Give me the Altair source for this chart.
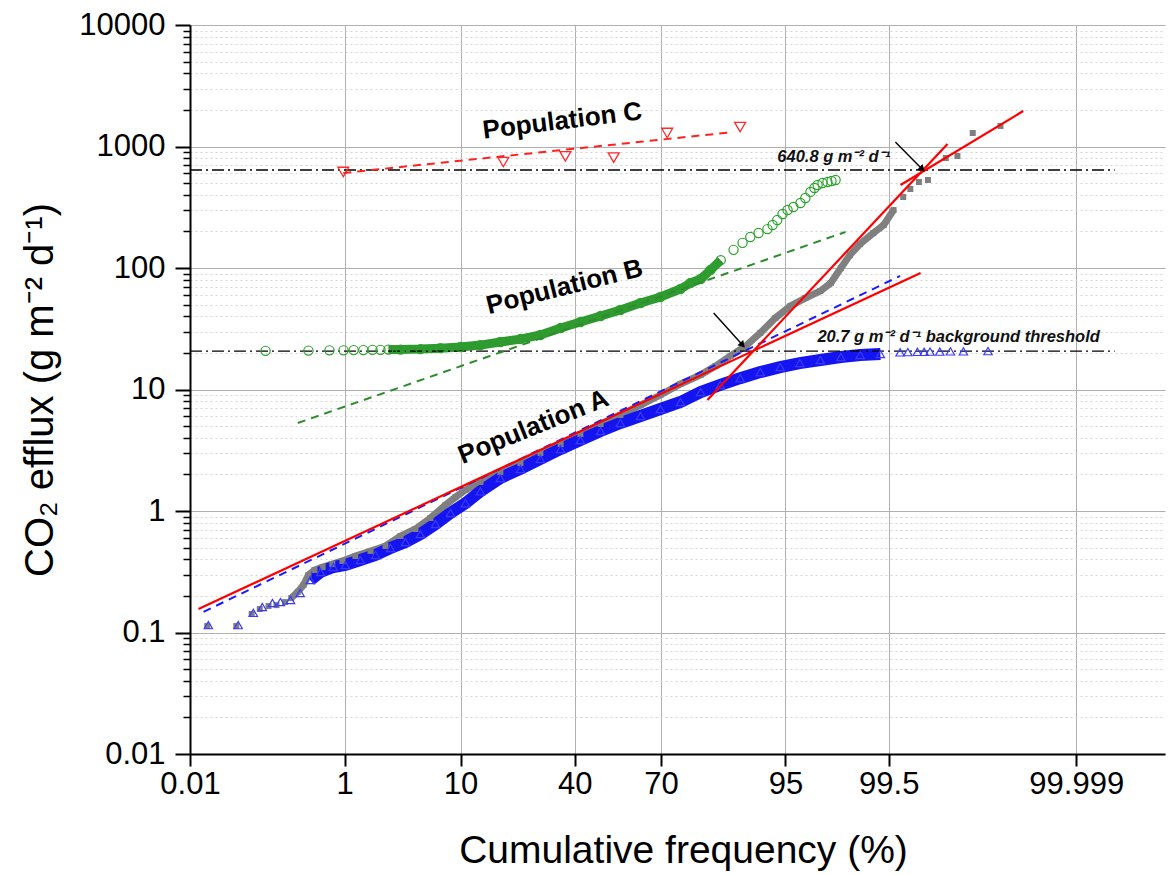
import altair as alt
import pandas as pd
from statistics import NormalDist

# ---------------- data ----------------
# whole data set (grey squares)
ALL_PCT = [0.0183, 0.048, 0.078, 0.10, 0.13, 0.164, 0.21, 0.25, 0.30, 0.35,
           0.40, 0.47, 0.58, 0.74, 0.95, 1.29, 1.82, 2.51, 3.42, 4.57,
           6.02, 7.82, 9.22, 10.8, 13.5, 17.8, 22.9, 28.7, 35.2, 42.0,
           49.2, 56.3, 63.3, 69.8, 75.8, 81.1, 84.5, 87.5, 90.1, 92.2,
           94.0, 95.45, 96.6, 97.5, 98.0, 98.4, 98.7, 98.98, 99.26, 99.43,
           99.56, 99.66, 99.72, 99.78, 99.83, 99.90, 99.93, 99.957, 99.983]
ALL_VAL = [0.113, 0.113, 0.142, 0.156, 0.165, 0.168, 0.178, 0.192, 0.216, 0.246,
           0.297, 0.327, 0.346, 0.366, 0.388, 0.426, 0.469, 0.515, 0.623, 0.711,
           0.876, 1.12, 1.30, 1.49, 1.73, 2.09, 2.48, 3.0, 3.56, 4.30,
           5.20, 6.17, 7.45, 9.01, 11.1, 13.2, 15.6, 18.9, 22.8, 29.2,
           38.8, 48.7, 56.6, 64.7, 75.3, 100, 128, 158, 194, 226,
           300, 384, 447, 510, 530, 804, 835, 1291, 1475]

# Population A (blue open triangles)
A_PCT = [0.019, 0.051, 0.082, 0.108, 0.146, 0.184, 0.245, 0.32, 0.42, 0.55,
         0.76, 1.02, 1.45, 2.03, 2.79, 3.77, 5.02, 6.59, 8.5, 10.8,
         13.5, 17.8, 22.9, 28.7, 35.2, 42.0, 49.2, 56.3, 63.3, 69.8,
         75.8, 81.1, 85.5, 89.2, 92.2, 94.5, 96.2, 97.5, 98.4, 98.98,
         99.38, 99.63, 99.70, 99.77, 99.81, 99.84, 99.88, 99.913, 99.942, 99.974]
A_VAL = [0.115, 0.115, 0.145, 0.162, 0.175, 0.178, 0.185, 0.211, 0.27, 0.315,
         0.346, 0.36, 0.395, 0.435, 0.496, 0.556, 0.647, 0.782, 0.963, 1.16,
         1.45, 1.87, 2.22, 2.68, 3.24, 3.84, 4.55, 5.30, 6.05, 6.91,
         7.89, 9.53, 10.9, 12.4, 13.9, 15.3, 16.5, 17.5, 18.5, 19.2,
         19.6, 20.2, 20.3, 20.4, 20.4, 20.5, 20.5, 20.6, 20.6, 20.7]

# Population B (green open circles)
B_PCT = [0.119, 0.40, 0.69, 0.975, 1.24, 1.55, 1.90, 2.26, 2.67, 3.42,
         5.02, 7.17, 9.99, 13.5, 17.8, 22.9, 28.7, 35.2, 42.0, 49.2,
         56.3, 63.3, 69.8, 75.8, 78.5, 81.1, 83.4, 85.6, 88.06, 89.6,
         90.8, 91.97, 93.1, 93.7, 94.2, 94.73, 95.2, 95.7, 96.25, 96.6,
         96.93, 97.17, 97.35, 97.61, 97.85, 98.03, 98.2]
B_VAL = [20.8, 20.9, 21.0, 21.0, 21.1, 21.1, 21.2, 21.2, 21.3, 21.3,
         21.5, 21.9, 22.4, 23.2, 24.6, 26.0, 28.1, 32.1, 35.9, 40.3,
         45.1, 51.5, 57.7, 67.1, 75.3, 81.2, 96.3, 116, 141, 161,
         180, 194, 209, 226, 248, 278, 300, 318, 343, 377,
         423, 455, 482, 501, 510, 520, 530]

# Population C (red open down-triangles)
C_PCT = [0.97, 18.5, 36.8, 53.9, 71.9, 89.2]
C_VAL = [617, 745, 830, 810, 1292, 1445]

# fitted lines (end points)
FIT_A_PCT, FIT_A_VAL = [0.0135, 99.79], [0.156, 91]          # red solid
FIT_A2_PCT, FIT_A2_VAL = [0.0161, 99.63], [0.148, 86]        # blue dashed
FIT_B_PCT, FIT_B_VAL = [0.30, 98.56], [5.3, 198]             # green dashed
FIT_C_PCT, FIT_C_VAL = [0.97, 88.0], [605, 1315]             # red dashed
FIT_H1_PCT, FIT_H1_VAL = [82.7, 99.905], [8.2, 1050]         # red solid steep
FIT_H2_PCT, FIT_H2_VAL = [99.634, 99.9924], [482, 1959]      # red solid upper

# thresholds
THR_VAL = [640.8, 20.7]
THR_PCT_FROM = [0.01, 0.01]
THR_PCT_TO = [99.9998, 99.9998]

# arrows
ARR1_PCT, ARR1_VAL = [99.58, 99.80], [1089, 650]
ARR2_PCT, ARR2_VAL = [84.1, 89.6], [42.6, 23.2]

# axis ticks
X_TICKS = [0.01, 1, 10, 40, 70, 95, 99.5, 99.999]
X_LABELS = ["0.01", "1", "10", "40", "70", "95", "99.5", "99.999"]
Y_MAJOR = [0.01, 0.1, 1, 10, 100, 1000, 10000]
Y_MINOR = [m * 10.0 ** e for e in range(-2, 4) for m in range(2, 10)]

# ---------------- layout ----------------
W, H = 975, 729
PX_PER_Z = 111.0
nd = NormalDist()
zmin = nd.inv_cdf(0.0001)
zmax = zmin + W / PX_PER_Z
xticks_z = [nd.inv_cdf(p / 100.0) for p in X_TICKS]
x_label_expr = " : ".join(
    f"abs(datum.value - ({z:.10f})) < 1e-6 ? '{l}'" for z, l in zip(xticks_z, X_LABELS)
) + " : ''"

DEC = "abs(log(datum.value)/LN10 - round(log(datum.value)/LN10)) < 1e-6"
FONT = "Liberation Sans"

xscale = alt.Scale(domain=[zmin, zmax], nice=False, zero=False)
yscale = alt.Scale(type="log", domain=[0.01, 10000], nice=False)

xaxis = alt.Axis(
    values=xticks_z, labelExpr=x_label_expr, title="Cumulative frequency (%)",
    grid=True, gridColor="#b0b0b0", gridWidth=1,
    domainColor="black", domainWidth=2, tickColor="black", tickWidth=2, tickSize=12,
    labelFont=FONT, labelFontSize=31, labelColor="black", labelPadding=3,
    labelOverlap=False, labelFlush=False,
    titleFont=FONT, titleFontSize=39, titleFontWeight="normal", titleColor="black",
    titleX=493, titleY=96, titleBaseline="middle", titleAlign="center",
)
yaxis = alt.Axis(
    values=Y_MAJOR + Y_MINOR,
    labelExpr=f"{DEC} ? format(datum.value, '~g') : ''",
    title="CO\u2082 efflux (g m\u207b\u00b2 d\u207b\u00b9)",
    grid=True,
    gridColor={"condition": {"test": DEC, "value": "#b0b0b0"}, "value": "#d4d4d4"},
    gridDash={"condition": {"test": DEC, "value": []}, "value": [2, 3]},
    gridWidth=1,
    domainColor="black", domainWidth=2, tickColor="black",
    tickWidth={"condition": {"test": DEC, "value": 2}, "value": 1.5},
    tickSize={"condition": {"test": DEC, "value": 15}, "value": 7},
    labelFont=FONT, labelFontSize=31, labelColor="black", labelPadding=10,
    labelOverlap=False, labelFlush=False,
    titleFont=FONT, titleFontSize=40, titleFontWeight="normal", titleColor="black",
    titleAngle=270, titleX=-150, titleY=H / 2, titleBaseline="middle", titleAlign="center",
)

X = alt.X("z:Q", scale=xscale, axis=xaxis)
Y = alt.Y("val:Q", scale=yscale, axis=yaxis)


def frame(pct, val):
    return pd.DataFrame({"pct": pct, "val": val})


def base(df):
    return alt.Chart(df).transform_calculate(z="quantileNormal(datum.pct/100)")


def fit_line(pct, val, color, dash=None, width=2):
    kw = dict(color=color, strokeWidth=width, clip=True)
    if dash:
        kw["strokeDash"] = dash
    return base(frame(pct, val)).mark_line(**kw).encode(x=X, y=Y)


all_df = frame(ALL_PCT, ALL_VAL)
a_df = frame(A_PCT, A_VAL)
b_df = frame(B_PCT, B_VAL)
c_df = frame(C_PCT, C_VAL)

gray_band = base(all_df).transform_filter("datum.pct >= 0.25 && datum.pct <= 99.6").mark_line(
    color="#808080", strokeWidth=7).encode(x=X, y=Y)
gray_pts = base(all_df).mark_square(color="#7f7f7f", size=36, opacity=1).encode(x=X, y=Y)

blue_band = base(a_df).transform_filter("datum.pct >= 0.35 && datum.pct <= 99.6").mark_line(
    color="#1414f0", strokeWidth=12).encode(x=X, y=Y)
blue_pts = base(a_df).mark_point(shape="triangle-up", filled=False, color="#3a3aff",
                                 size=70, strokeWidth=1.2, opacity=1).encode(x=X, y=Y)

green_band = base(b_df).transform_filter("datum.pct >= 2.5 && datum.pct <= 86").mark_line(
    color="#2f9a2f", strokeWidth=9).encode(x=X, y=Y)
green_pts = base(b_df).mark_point(shape="circle", filled=False, color="#2ca02c",
                                  size=85, strokeWidth=1.2, opacity=1).encode(x=X, y=Y)

c_pts = base(c_df).mark_point(shape="triangle-down", filled=False, color="#ff2a2a",
                              size=120, strokeWidth=1.3, opacity=1).encode(x=X, y=Y)

thr_df = pd.DataFrame({"val": THR_VAL, "p1": THR_PCT_FROM, "p2": THR_PCT_TO})
thr = alt.Chart(thr_df).transform_calculate(
    z="quantileNormal(datum.p1/100)", z2="quantileNormal(datum.p2/100)"
).mark_rule(color="black", strokeWidth=1.3, strokeDash=[12, 4, 2, 4]).encode(
    x=X, x2="z2:Q", y=Y)

lines = [
    fit_line(FIT_B_PCT, FIT_B_VAL, "#2e8b2e", dash=[8, 6], width=2),
    fit_line(FIT_C_PCT, FIT_C_VAL, "#ff2020", dash=[8, 6], width=2),
    fit_line(FIT_A2_PCT, FIT_A2_VAL, "#1a1aff", dash=[8, 6], width=2),
    fit_line(FIT_A_PCT, FIT_A_VAL, "#ff0000", width=2.2),
    fit_line(FIT_H1_PCT, FIT_H1_VAL, "#ff0000", width=2.2),
    fit_line(FIT_H2_PCT, FIT_H2_VAL, "#ff0000", width=2.2),
]


def arrow(pct, val, ang):
    shaft = base(frame(pct, val)).mark_line(color="black", strokeWidth=1.4).encode(x=X, y=Y)
    head = base(frame(pct[1:], val[1:])).mark_point(
        shape="triangle-up", filled=True, color="black", size=60, angle=ang, opacity=1
    ).encode(x=X, y=Y)
    return [shaft, head]


texts_df = pd.DataFrame({
    "pct": [26.6, 36.5, 35.8],
    "val": [4.91, 69.8, 1622],
    "label": ["Population A", "Population B", "Population C"],
    "ang": [338, 346, 353],
})


def pop_text(i):
    d = texts_df.iloc[[i]]
    return base(d).mark_text(font=FONT, fontSize=26, fontWeight="bold", color="black",
                             angle=int(d["ang"].iloc[0]), align="center", baseline="middle").encode(
        x=X, y=Y, text="label:N")


note_df = pd.DataFrame({
    "pct": [94.2, 97.34],
    "val": [820, 27.0],
    "label": ["640.8 g m\u207b\u00b2 d\u207b\u00b9",
              "20.7 g m\u207b\u00b2 d\u207b\u00b9 background threshold"],
})
notes = base(note_df).mark_text(font=FONT, fontSize=16.5, fontWeight="bold", fontStyle="italic",
                                color="#111111", align="left", baseline="middle").encode(
    x=X, y=Y, text="label:N")

layers = ([gray_band, blue_band, green_band, thr, gray_pts, blue_pts, green_pts, c_pts]
          + lines + arrow(ARR1_PCT, ARR1_VAL, 134) + arrow(ARR2_PCT, ARR2_VAL, 138)
          + [pop_text(0), pop_text(1), pop_text(2), notes])

chart = alt.layer(*layers).properties(
    width=W, height=H,
    autosize=alt.AutoSizeParams(type="none"),
    padding={"left": 190, "top": 25, "right": 4, "bottom": 121},
    background="white",
).configure_view(stroke=None)

chart.save("out.html", embed_options={"renderer": "svg", "actions": False})
